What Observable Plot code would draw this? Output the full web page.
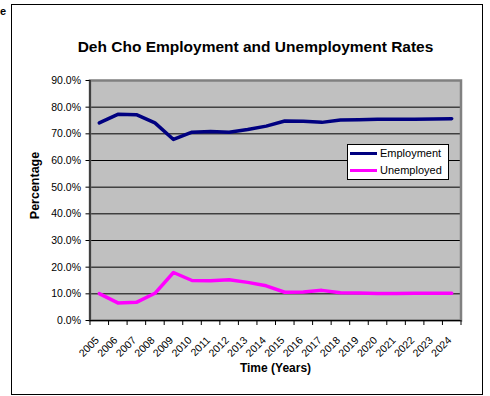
<!DOCTYPE html>
<html>
<head>
<meta charset="utf-8">
<script src="https://cdn.jsdelivr.net/npm/d3@7"></script>
<script src="https://cdn.jsdelivr.net/npm/@observablehq/plot@0.6"></script>
<style>
  html, body { margin: 0; padding: 0; background: #fff; }
  #wrap { position: relative; width: 490px; height: 396px; overflow: hidden; font-family: "Liberation Sans", Arial, sans-serif; }
  #box { position: absolute; left: 11px; top: 4px; width: 472px; height: 391px; border: 1px solid #000; box-sizing: border-box; }
  #stray { position: absolute; left: 0px; top: 5px; font-size: 11px; font-weight: bold; }
  #chart { position: absolute; left: 0; top: 0; }
  #legend { position: absolute; left: 347px; top: 144px; width: 102px; height: 36px; box-sizing: border-box; border: 1px solid #000; background: #fff; font-size: 11px; }
  .item { position: absolute; left: 2px; height: 14px; display: flex; align-items: center; }
  .sw { width: 27px; height: 3px; margin-right: 3px; }
</style>
</head>
<body>
<div id="wrap">
  <div id="box"></div>
  <div id="stray">e</div>
  <div id="chart"></div>
  <div id="legend">
    <div class="item" style="top:1px"><div class="sw" style="background:#000080"></div><span>Employment</span></div>
    <div class="item" style="top:18px"><div class="sw" style="background:#ff00ff"></div><span>Unemployed</span></div>
  </div>
</div>
<script>
const years = [2005, 2006, 2007, 2008, 2009, 2010, 2011, 2012, 2013, 2014, 2015, 2016, 2017, 2018, 2019, 2020, 2021, 2022, 2023, 2024];
const employment = [74.1, 77.3, 77.2, 74.1, 67.9, 70.6, 70.9, 70.6, 71.6, 72.9, 74.8, 74.7, 74.3, 75.2, 75.3, 75.5, 75.5, 75.5, 75.6, 75.7];
const unemployed = [10.1, 6.6, 6.8, 10.2, 18.0, 15.0, 14.9, 15.3, 14.3, 13.0, 10.6, 10.7, 11.3, 10.4, 10.3, 10.1, 10.1, 10.2, 10.2, 10.2];
const yTicks = [0, 10, 20, 30, 40, 50, 60, 70, 80, 90];
const gridTicks = [10, 20, 30, 40, 50, 60, 70, 80];
const title = "Deh Cho Employment and Unemployment Rates";
const xTitle = "Time (Years)";
const yTitle = "Percentage";

const empData = years.map((y, i) => ({year: y, value: employment[i]}));
const unData = years.map((y, i) => ({year: y, value: unemployed[i]}));
const xDomain = [years[0] - 0.5, years[years.length - 1] + 0.5];
const bounds = d3.range(years.length + 1).map(i => xDomain[0] + i);

const chart = Plot.plot({
  width: 490,
  height: 396,
  marginLeft: 89.5,
  marginRight: 29.5,
  marginTop: 80,
  marginBottom: 76,
  style: {background: "transparent", fontFamily: "'Liberation Sans', Arial, sans-serif", color: "#000"},
  x: {type: "linear", domain: xDomain},
  y: {domain: [0, 90]},
  marks: [
    Plot.frame({fill: "#c0c0c0"}),
    Plot.ruleY(gridTicks, {stroke: "#000", strokeWidth: 1}),
    Plot.frame({stroke: "#808080", strokeWidth: 2.5}),
    Plot.ruleX([xDomain[0]], {stroke: "#000", strokeWidth: 1}),
    Plot.ruleY([0], {stroke: "#000", strokeWidth: 1}),
    Plot.axisY({ticks: yTicks, tickFormat: d => d.toFixed(1) + "%", tickSize: 4, tickPadding: 5, fontSize: 10.5, label: null}),
    Plot.axisX({ticks: bounds, tickFormat: () => "", tickSize: 5, label: null}),
    Plot.text(years, {x: d => d, frameAnchor: "bottom", text: d => String(d), rotate: -45, textAnchor: "end", lineAnchor: "middle", dx: -2, dy: 18, fontSize: 10.5}),
    Plot.line(empData, {x: "year", y: "value", stroke: "#000080", strokeWidth: 3.5}),
    Plot.line(unData, {x: "year", y: "value", stroke: "#ff00ff", strokeWidth: 3.5}),
    Plot.text([title], {frameAnchor: "top", text: d => d, lineAnchor: "middle", dy: -33, dx: -20, fontSize: 15.5, fontWeight: "bold"}),
    Plot.text([xTitle], {frameAnchor: "bottom", text: d => d, lineAnchor: "middle", dy: 48, fontSize: 12, fontWeight: "bold"}),
    Plot.text([yTitle], {frameAnchor: "left", text: d => d, rotate: -90, textAnchor: "middle", lineAnchor: "middle", dx: -55, dy: -15, fontSize: 12.5, fontWeight: "bold"})
  ]
});
document.getElementById("chart").appendChild(chart);
</script>
</body>
</html>
